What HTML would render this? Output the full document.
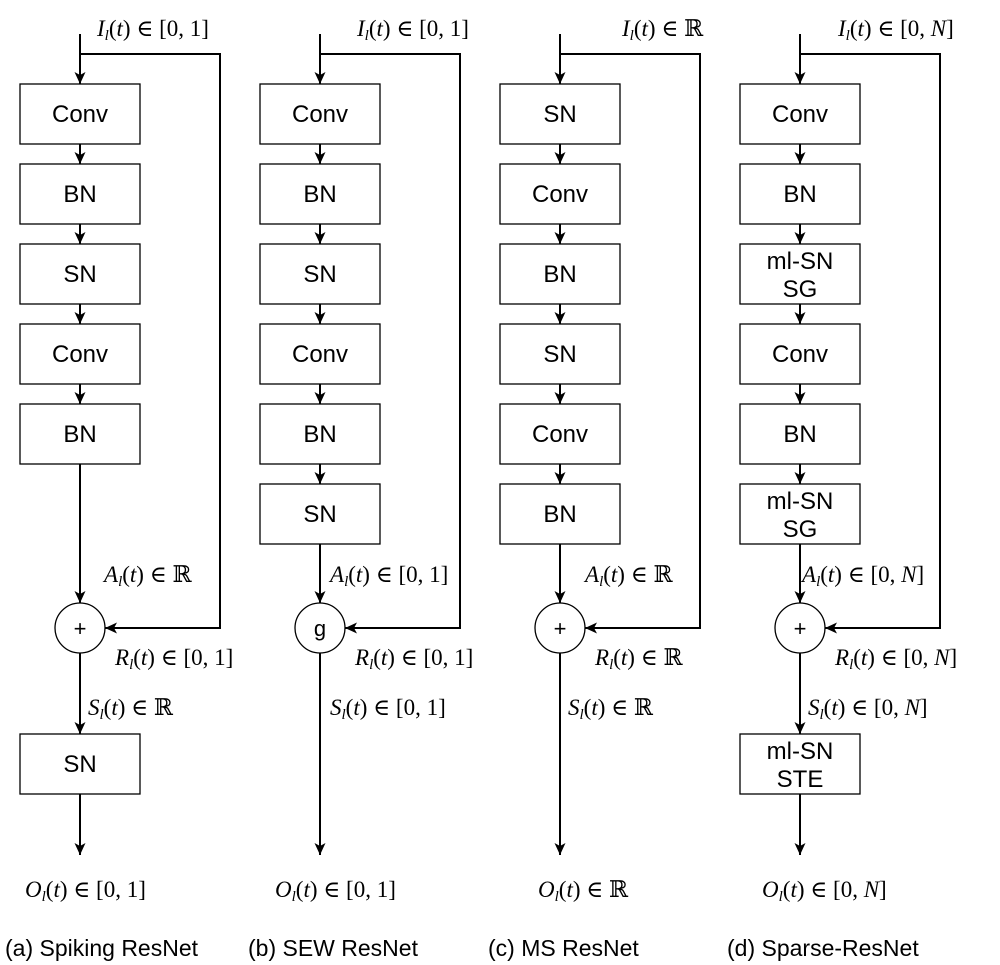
<!DOCTYPE html>
<html><head><meta charset="utf-8"><style>
html,body{margin:0;padding:0;background:#fff;}
svg{display:block;}
.bx{fill:#fff;stroke:#000;stroke-width:1.3;}
.ln{stroke:#000;stroke-width:2;fill:none;}
.bt{font-family:"Liberation Sans",Arial,sans-serif;font-size:24px;text-anchor:middle;}
.m{font-family:"Liberation Serif","DejaVu Serif",serif;font-size:23px;}
.i{font-style:italic;}
.cap{font-family:"Liberation Sans",Arial,sans-serif;font-size:23px;}
</style></head><body>
<svg width="1000" height="965" viewBox="0 0 1000 965" xmlns="http://www.w3.org/2000/svg">
<defs>
<marker id="a" viewBox="0 0 12 12" refX="12" refY="6" markerWidth="12" markerHeight="12" markerUnits="userSpaceOnUse" orient="auto"><path d="M0,0.5 L12,6 L0,11.5 L3,6 z" fill="#000"/></marker></defs>

<!-- Column a -->
<line class="ln" x1="80" y1="34" x2="80" y2="84" marker-end="url(#a)"/>
<path class="ln" d="M80,54 H220 V628 H105" marker-end="url(#a)"/>
<rect class="bx" x="20" y="84" width="120" height="60"/><text class="bt" x="80" y="122">Conv</text>
<line class="ln" x1="80" y1="144" x2="80" y2="164" marker-end="url(#a)"/>
<rect class="bx" x="20" y="164" width="120" height="60"/><text class="bt" x="80" y="202">BN</text>
<line class="ln" x1="80" y1="224" x2="80" y2="244" marker-end="url(#a)"/>
<rect class="bx" x="20" y="244" width="120" height="60"/><text class="bt" x="80" y="282">SN</text>
<line class="ln" x1="80" y1="304" x2="80" y2="324" marker-end="url(#a)"/>
<rect class="bx" x="20" y="324" width="120" height="60"/><text class="bt" x="80" y="362">Conv</text>
<line class="ln" x1="80" y1="384" x2="80" y2="404" marker-end="url(#a)"/>
<rect class="bx" x="20" y="404" width="120" height="60"/><text class="bt" x="80" y="442">BN</text>
<line class="ln" x1="80" y1="464" x2="80" y2="603" marker-end="url(#a)"/>
<circle cx="80" cy="628" r="25" fill="#fff" stroke="#000" stroke-width="1.3"/><text class="bt" x="80" y="636" style="font-size:22px">+</text>
<line class="ln" x1="80" y1="653" x2="80" y2="734" marker-end="url(#a)"/>
<rect class="bx" x="20" y="734" width="120" height="60"/><text class="bt" x="80" y="772">SN</text>
<line class="ln" x1="80" y1="794" x2="80" y2="855" marker-end="url(#a)"/>

<!-- Column b -->
<line class="ln" x1="320" y1="34" x2="320" y2="84" marker-end="url(#a)"/>
<path class="ln" d="M320,54 H460 V628 H345" marker-end="url(#a)"/>
<rect class="bx" x="260" y="84" width="120" height="60"/><text class="bt" x="320" y="122">Conv</text>
<line class="ln" x1="320" y1="144" x2="320" y2="164" marker-end="url(#a)"/>
<rect class="bx" x="260" y="164" width="120" height="60"/><text class="bt" x="320" y="202">BN</text>
<line class="ln" x1="320" y1="224" x2="320" y2="244" marker-end="url(#a)"/>
<rect class="bx" x="260" y="244" width="120" height="60"/><text class="bt" x="320" y="282">SN</text>
<line class="ln" x1="320" y1="304" x2="320" y2="324" marker-end="url(#a)"/>
<rect class="bx" x="260" y="324" width="120" height="60"/><text class="bt" x="320" y="362">Conv</text>
<line class="ln" x1="320" y1="384" x2="320" y2="404" marker-end="url(#a)"/>
<rect class="bx" x="260" y="404" width="120" height="60"/><text class="bt" x="320" y="442">BN</text>
<line class="ln" x1="320" y1="464" x2="320" y2="484" marker-end="url(#a)"/>
<rect class="bx" x="260" y="484" width="120" height="60"/><text class="bt" x="320" y="522">SN</text>
<line class="ln" x1="320" y1="544" x2="320" y2="603" marker-end="url(#a)"/>
<circle cx="320" cy="628" r="25" fill="#fff" stroke="#000" stroke-width="1.3"/><text class="bt" x="320" y="636" style="font-size:22px">g</text>
<line class="ln" x1="320" y1="653" x2="320" y2="855" marker-end="url(#a)"/>

<!-- Column c -->
<line class="ln" x1="560" y1="34" x2="560" y2="84" marker-end="url(#a)"/>
<path class="ln" d="M560,54 H700 V628 H585" marker-end="url(#a)"/>
<rect class="bx" x="500" y="84" width="120" height="60"/><text class="bt" x="560" y="122">SN</text>
<line class="ln" x1="560" y1="144" x2="560" y2="164" marker-end="url(#a)"/>
<rect class="bx" x="500" y="164" width="120" height="60"/><text class="bt" x="560" y="202">Conv</text>
<line class="ln" x1="560" y1="224" x2="560" y2="244" marker-end="url(#a)"/>
<rect class="bx" x="500" y="244" width="120" height="60"/><text class="bt" x="560" y="282">BN</text>
<line class="ln" x1="560" y1="304" x2="560" y2="324" marker-end="url(#a)"/>
<rect class="bx" x="500" y="324" width="120" height="60"/><text class="bt" x="560" y="362">SN</text>
<line class="ln" x1="560" y1="384" x2="560" y2="404" marker-end="url(#a)"/>
<rect class="bx" x="500" y="404" width="120" height="60"/><text class="bt" x="560" y="442">Conv</text>
<line class="ln" x1="560" y1="464" x2="560" y2="484" marker-end="url(#a)"/>
<rect class="bx" x="500" y="484" width="120" height="60"/><text class="bt" x="560" y="522">BN</text>
<line class="ln" x1="560" y1="544" x2="560" y2="603" marker-end="url(#a)"/>
<circle cx="560" cy="628" r="25" fill="#fff" stroke="#000" stroke-width="1.3"/><text class="bt" x="560" y="636" style="font-size:22px">+</text>
<line class="ln" x1="560" y1="653" x2="560" y2="855" marker-end="url(#a)"/>

<!-- Column d -->
<line class="ln" x1="800" y1="34" x2="800" y2="84" marker-end="url(#a)"/>
<path class="ln" d="M800,54 H940 V628 H825" marker-end="url(#a)"/>
<rect class="bx" x="740" y="84" width="120" height="60"/><text class="bt" x="800" y="122">Conv</text>
<line class="ln" x1="800" y1="144" x2="800" y2="164" marker-end="url(#a)"/>
<rect class="bx" x="740" y="164" width="120" height="60"/><text class="bt" x="800" y="202">BN</text>
<line class="ln" x1="800" y1="224" x2="800" y2="244" marker-end="url(#a)"/>
<rect class="bx" x="740" y="244" width="120" height="60"/><text class="bt" x="800" y="269">ml-SN</text><text class="bt" x="800" y="297">SG</text>
<line class="ln" x1="800" y1="304" x2="800" y2="324" marker-end="url(#a)"/>
<rect class="bx" x="740" y="324" width="120" height="60"/><text class="bt" x="800" y="362">Conv</text>
<line class="ln" x1="800" y1="384" x2="800" y2="404" marker-end="url(#a)"/>
<rect class="bx" x="740" y="404" width="120" height="60"/><text class="bt" x="800" y="442">BN</text>
<line class="ln" x1="800" y1="464" x2="800" y2="484" marker-end="url(#a)"/>
<rect class="bx" x="740" y="484" width="120" height="60"/><text class="bt" x="800" y="509">ml-SN</text><text class="bt" x="800" y="537">SG</text>
<line class="ln" x1="800" y1="544" x2="800" y2="603" marker-end="url(#a)"/>
<circle cx="800" cy="628" r="25" fill="#fff" stroke="#000" stroke-width="1.3"/><text class="bt" x="800" y="636" style="font-size:22px">+</text>
<line class="ln" x1="800" y1="653" x2="800" y2="734" marker-end="url(#a)"/>
<rect class="bx" x="740" y="734" width="120" height="60"/><text class="bt" x="800" y="759">ml-SN</text><text class="bt" x="800" y="787">STE</text>
<line class="ln" x1="800" y1="794" x2="800" y2="855" marker-end="url(#a)"/>

<!-- Labels a -->
<text class="m" x="97" y="36"><tspan class="i">I</tspan><tspan class="i" font-size="15" dy="4">l</tspan><tspan dy="-4">(</tspan><tspan class="i">t</tspan>) ∈ [0, 1]</text>
<text class="m" x="104" y="582"><tspan class="i">A</tspan><tspan class="i" font-size="15" dy="4">l</tspan><tspan dy="-4">(</tspan><tspan class="i">t</tspan>) ∈ ℝ</text>
<text class="m" x="115" y="665"><tspan class="i">R</tspan><tspan class="i" font-size="15" dy="4">l</tspan><tspan dy="-4">(</tspan><tspan class="i">t</tspan>) ∈ [0, 1]</text>
<text class="m" x="88" y="715"><tspan class="i">S</tspan><tspan class="i" font-size="15" dy="4">l</tspan><tspan dy="-4">(</tspan><tspan class="i">t</tspan>) ∈ ℝ</text>
<text class="m" x="25" y="897"><tspan class="i">O</tspan><tspan class="i" font-size="15" dy="4">l</tspan><tspan dy="-4">(</tspan><tspan class="i">t</tspan>) ∈ [0, 1]</text>
<!-- Labels b -->
<text class="m" x="357" y="36"><tspan class="i">I</tspan><tspan class="i" font-size="15" dy="4">l</tspan><tspan dy="-4">(</tspan><tspan class="i">t</tspan>) ∈ [0, 1]</text>
<text class="m" x="330" y="582"><tspan class="i">A</tspan><tspan class="i" font-size="15" dy="4">l</tspan><tspan dy="-4">(</tspan><tspan class="i">t</tspan>) ∈ [0, 1]</text>
<text class="m" x="355" y="665"><tspan class="i">R</tspan><tspan class="i" font-size="15" dy="4">l</tspan><tspan dy="-4">(</tspan><tspan class="i">t</tspan>) ∈ [0, 1]</text>
<text class="m" x="330" y="715"><tspan class="i">S</tspan><tspan class="i" font-size="15" dy="4">l</tspan><tspan dy="-4">(</tspan><tspan class="i">t</tspan>) ∈ [0, 1]</text>
<text class="m" x="275" y="897"><tspan class="i">O</tspan><tspan class="i" font-size="15" dy="4">l</tspan><tspan dy="-4">(</tspan><tspan class="i">t</tspan>) ∈ [0, 1]</text>
<!-- Labels c -->
<text class="m" x="622" y="36"><tspan class="i">I</tspan><tspan class="i" font-size="15" dy="4">l</tspan><tspan dy="-4">(</tspan><tspan class="i">t</tspan>) ∈ ℝ</text>
<text class="m" x="585" y="582"><tspan class="i">A</tspan><tspan class="i" font-size="15" dy="4">l</tspan><tspan dy="-4">(</tspan><tspan class="i">t</tspan>) ∈ ℝ</text>
<text class="m" x="595" y="665"><tspan class="i">R</tspan><tspan class="i" font-size="15" dy="4">l</tspan><tspan dy="-4">(</tspan><tspan class="i">t</tspan>) ∈ ℝ</text>
<text class="m" x="568" y="715"><tspan class="i">S</tspan><tspan class="i" font-size="15" dy="4">l</tspan><tspan dy="-4">(</tspan><tspan class="i">t</tspan>) ∈ ℝ</text>
<text class="m" x="538" y="897"><tspan class="i">O</tspan><tspan class="i" font-size="15" dy="4">l</tspan><tspan dy="-4">(</tspan><tspan class="i">t</tspan>) ∈ ℝ</text>
<!-- Labels d -->
<text class="m" x="838" y="36"><tspan class="i">I</tspan><tspan class="i" font-size="15" dy="4">l</tspan><tspan dy="-4">(</tspan><tspan class="i">t</tspan>) ∈ [0, <tspan class="i">N</tspan>]</text>
<text class="m" x="802" y="582"><tspan class="i">A</tspan><tspan class="i" font-size="15" dy="4">l</tspan><tspan dy="-4">(</tspan><tspan class="i">t</tspan>) ∈ [0, <tspan class="i">N</tspan>]</text>
<text class="m" x="835" y="665"><tspan class="i">R</tspan><tspan class="i" font-size="15" dy="4">l</tspan><tspan dy="-4">(</tspan><tspan class="i">t</tspan>) ∈ [0, <tspan class="i">N</tspan>]</text>
<text class="m" x="808" y="715"><tspan class="i">S</tspan><tspan class="i" font-size="15" dy="4">l</tspan><tspan dy="-4">(</tspan><tspan class="i">t</tspan>) ∈ [0, <tspan class="i">N</tspan>]</text>
<text class="m" x="762" y="897"><tspan class="i">O</tspan><tspan class="i" font-size="15" dy="4">l</tspan><tspan dy="-4">(</tspan><tspan class="i">t</tspan>) ∈ [0, <tspan class="i">N</tspan>]</text>

<!-- Captions -->
<text class="cap" x="5" y="956">(a) Spiking ResNet</text>
<text class="cap" x="248" y="956">(b) SEW ResNet</text>
<text class="cap" x="488" y="956">(c) MS ResNet</text>
<text class="cap" x="727" y="956">(d) Sparse-ResNet</text>
</svg>
</body></html>
